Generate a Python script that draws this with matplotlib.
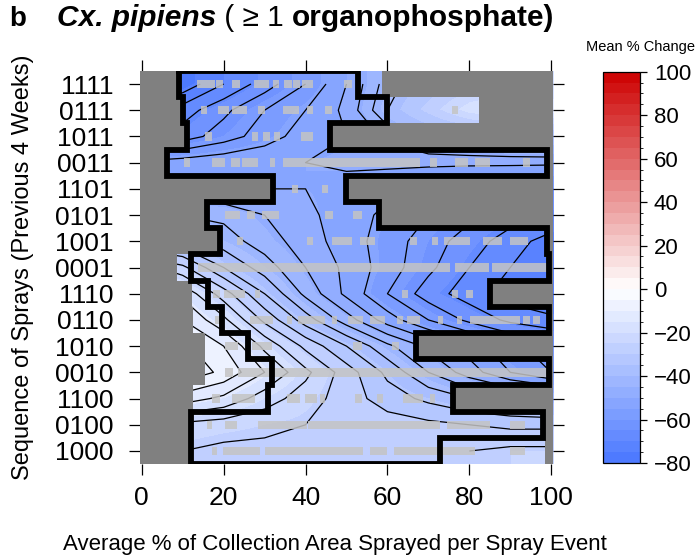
import numpy as np
import matplotlib
matplotlib.use('Agg')
import matplotlib.pyplot as plt
from matplotlib.colors import ListedColormap, BoundaryNorm, to_rgb
from matplotlib.cm import ScalarMappable

plt.rcParams['font.family'] = ['Liberation Sans', 'DejaVu Sans']

# rows from top to bottom
sequences = ['1111', '0111', '1011', '0011', '1101', '0101', '1001', '0001',
             '1110', '0110', '1010', '0010', '1100', '0100', '1000']

# % area sprayed at which the surface was read
x_grid = [0, 10, 20, 30, 40, 50, 60, 70, 80, 90, 100]

# mean % change (one line per sequence)
mean_change = [
    [-80, -77, -70, -64, -58, -50, -40, -34, -28, -24, -20],   # 1111
    [-72, -68, -63, -58, -54, -49, -38, -28, -17, -14, -12],   # 0111
    [-68, -64, -60, -56, -52, -50, -45, -40, -38, -36, -35],   # 1011
    [-53, -52, -51, -50.5, -50, -49.5, -49, -49, -49, -49, -49],  # 0011
    [-50, -50, -50, -50, -50, -51, -53, -55, -57, -58, -60],   # 1101
    [-42, -42, -43, -46, -49, -52, -55, -58, -61, -64, -66],   # 0101
    [-35, -37, -40, -44, -48, -52, -56, -60, -64, -68, -72],   # 1001
    [-20, -25, -34, -40, -46, -51, -56, -61, -66, -70, -74],   # 0001
    [-12, -15, -24, -34, -43, -51, -58, -64, -68, -72, -74],   # 1110
    [-8, -10, -17, -27, -36, -44, -52, -58, -63, -67, -69],    # 0110
    [-3, -5, -10, -19, -27, -34, -41, -47, -52, -57, -60],     # 1010
    [-2, -3, -7, -14, -21, -28, -35, -42, -48, -54, -58],      # 0010
    [-10, -12, -15, -20, -24, -28, -32, -35, -38, -40, -42],   # 1100
    [-22, -23, -24, -25, -26, -27, -28, -29, -30, -31, -31],   # 0100
    [-26, -26, -27, -27, -26, -26, -26, -27, -26, -25, -25],   # 1000
]

# coloured extent of each row
color_left = [9.1, 10.0, 11.0, 6.1, 32.1, 15.9, 19.1, 8.5, 12.2, 12.6, 15.5, 15.5, 12.6, 12.0, 12.0]
color_right = [58.6, 82.4, 46.0, 98.9, 49.9, 58.0, 98.9, 99.5, 85.0, 99.5, 67.0, 99.5, 75.9, 98.0, 98.5]

# black outline (range of the data)
hull_left = [9.1, 10.0, 11.0, 6.1, 32.1, 15.9, 19.1, 12.0, 16.1, 19.5, 26.0, 31.7, 30.9, 12.0, 12.0]
hull_right = [52.9, 59.8, 46.0, 98.9, 49.9, 58.0, 98.9, 99.5, 85.0, 99.5, 67.0, 99.5, 75.9, 98.0, 72.8]

# observed spray coverage (start, end) per sequence
obs_spans = [
    [(13.4, 17.9), (18.1, 19.9), (22, 24), (27.3, 31), (32, 33.4), (34.8, 36.6), (37, 38.7), (39.2, 41.9), (49.4, 51.3)],
    [(14.5, 15.9), (18.5, 21.2), (22, 25.6), (28.5, 30.1), (34.6, 38.3), (40.3, 41.9), (44.8, 46.4), (75.7, 77.3)],
    [(15.5, 17.1), (26.9, 28.5), (29.7, 31.3), (32.3, 33.8), (38.9, 41.9)],
    [(10.2, 11.8), (17.1, 20.3), (21.9, 24), (24.6, 28.5), (31.2, 32.5), (34.4, 67.9), (70.4, 72), (76.5, 79.7), (81.4, 85), (93.2, 94.8)],
    [(36.6, 38.2), (43.9, 45.6)],
    [(20.3, 24), (25.6, 27.7), (29.3, 33.4), (44.8, 46.8), (51.7, 53.7)],
    [(23.2, 24.8), (40.3, 41.9), (46.4, 51.3), (53.3, 57), (65.5, 67.1), (70.8, 72.4), (73.8, 80.2), (83.4, 87.9), (89.9, 94.4)],
    [(13.8, 75.3), (76.5, 84.7), (85.5, 99.3)],
    [(17.5, 19.1), (20, 25.2), (27.7, 28.9), (63.5, 65.1), (75.7, 77.3), (79.3, 80.9)],
    [(17.9, 19.1), (26.4, 32.1), (35.4, 36.6), (38.2, 44.8), (46.4, 47.6), (50.4, 54.1), (55.7, 59.4), (62.3, 63.9), (64.7, 68), (72.4, 73.6), (76.9, 78.1), (80.2, 92.4), (93.2, 94.8), (95.6, 97.3)],
    [(20.3, 23.4), (27, 31.8), (51.5, 53.7), (61, 62.7)],
    [(20.3, 22.3), (23.5, 99.3)],
    [(17.1, 19.1), (22, 27.7), (35.4, 38.6), (39.9, 42.7), (43.5, 44.8), (52.1, 53.7), (57.4, 59), (63.9, 68.8), (70.4, 71.6)],
    [(15.9, 17.1), (20.3, 23.2), (28.5, 40.3), (40.7, 72.8), (74.5, 85), (89.9, 93.6)],
    [(17.1, 18.3), (19.9, 28.9), (30.1, 54.1), (55.7, 59.8), (61.5, 72.8), (73.6, 81.4), (89.9, 93.6)],
]

cbar_ticks = [-80, -60, -40, -20, 0, 20, 40, 60, 80, 100]

# colour scale: royalblue1 -> white -> red3, in steps of 5
levels = np.arange(-80, 101, 5)
mids = (levels[:-1] + levels[1:]) / 2
blue, red, white = np.array(to_rgb('#4876FF')), np.array(to_rgb('#CD0000')), np.ones(3)
cols = []
for m in mids:
    if m < 0:
        t = -m / 80
        cols.append(white * (1 - t) + blue * t)
    else:
        t = m / 100
        cols.append(white * (1 - t) + red * t)
cmap = ListedColormap(cols)
norm = BoundaryNorm(levels, cmap.N)

n = len(sequences)
ypos = np.arange(n, 0, -1)   # 1111 at the top
Z = np.array(mean_change, dtype=float)

fig = plt.figure(figsize=(6.97, 5.58), dpi=100)
ax = fig.add_axes([139.7 / 697, 1 - 464.1 / 558, 413.6 / 697, 393.2 / 558])
ax.set_facecolor('#808080')

ax.imshow(Z, extent=(-5, 105, 0.5, n + 0.5), origin='upper', aspect='auto',
          cmap=cmap, norm=norm, interpolation='bilinear',
          interpolation_stage='data', zorder=1)

Zc = np.ma.masked_array(Z, mask=np.zeros_like(Z, dtype=bool))
Zc.mask[1, 7:] = True
X, Y = np.meshgrid(x_grid, ypos)
ax.contour(X, Y, Zc, levels=np.arange(-78, 0, 4), colors='black',
           linewidths=0.9, linestyles='solid', zorder=2)

# grey outside the coloured part of every row
gray = '#808080'
ax.barh(ypos, np.array(color_left) + 0.5, left=-0.5, height=1.0,
        color=gray, linewidth=0, zorder=3)
ax.barh(ypos, 100.5 - np.array(color_right), left=color_right, height=1.0,
        color=gray, linewidth=0, zorder=3)

# observed data as light grey squares
for y, spans in zip(ypos, obs_spans):
    ax.broken_barh([(a, b - a) for a, b in spans], (y - 0.16, 0.32),
                   facecolors='#C4C4C4', alpha=0.85, linewidth=0, zorder=4)

# outline of the data range
top = ypos + 0.5
bot = ypos - 0.5
px, py = [hull_left[0]], [top[0]]
for i in range(n):
    px += [hull_right[i], hull_right[i]]
    py += [top[i], bot[i]]
for i in range(n - 1, -1, -1):
    px += [hull_left[i], hull_left[i]]
    py += [bot[i], top[i]]
ax.plot(px, py, color='black', linewidth=4.2, solid_joinstyle='miter', zorder=5)

ax.set_xlim(-0.5, 100.5)
ax.set_ylim(0.5, n + 0.5)
for s in ax.spines.values():
    s.set_visible(False)
ax.set_xticks([0, 20, 40, 60, 80, 100])
ax.set_yticks(ypos)
ax.set_yticklabels(sequences)
ax.tick_params(axis='both', direction='out', length=8, width=0.9,
               labelsize=19, top=True, right=True,
               labeltop=False, labelright=False)
ax.tick_params(axis='y', pad=11)
ax.tick_params(axis='x', pad=8)
ax.set_xlabel('Average % of Collection Area Sprayed per Spray Event',
              fontsize=16, labelpad=17, x=0.472)
ax.set_ylabel('Sequence of Sprays (Previous 4 Weeks)', fontsize=17, labelpad=15)

# colour bar
cax = fig.add_axes([603 / 697, 1 - 463 / 558, 37 / 697, 391.3 / 558])
sm = ScalarMappable(norm=norm, cmap=cmap)
cb = fig.colorbar(sm, cax=cax, ticks=cbar_ticks, spacing='proportional')
cb.outline.set_linewidth(0.9)
cax.tick_params(direction='out', length=5, width=0.9, labelsize=16, pad=5)
fig.text(641 / 697, 1 - 47 / 558, 'Mean % Change', fontsize=10.5,
         ha='center', va='center')

# title in pieces
fig.text(9 / 697, 1 - 26 / 558, 'b', fontsize=20, fontweight='bold',
         va='baseline')
fig.canvas.draw()
r = fig.canvas.get_renderer()
x0 = 57 / 697
parts = [('Cx. pipiens', dict(fontweight='bold', fontstyle='italic')),
         (' ( \u2265 1 ', dict()),
         ('organophosphate)', dict(fontweight='bold'))]
for s, kw in parts:
    t = fig.text(x0, 1 - 26 / 558, s, fontsize=21.5, va='baseline', **kw)
    bb = t.get_window_extent(renderer=r)
    x0 = bb.x1 / fig.bbox.width

fig.savefig('out.png', dpi=100)
